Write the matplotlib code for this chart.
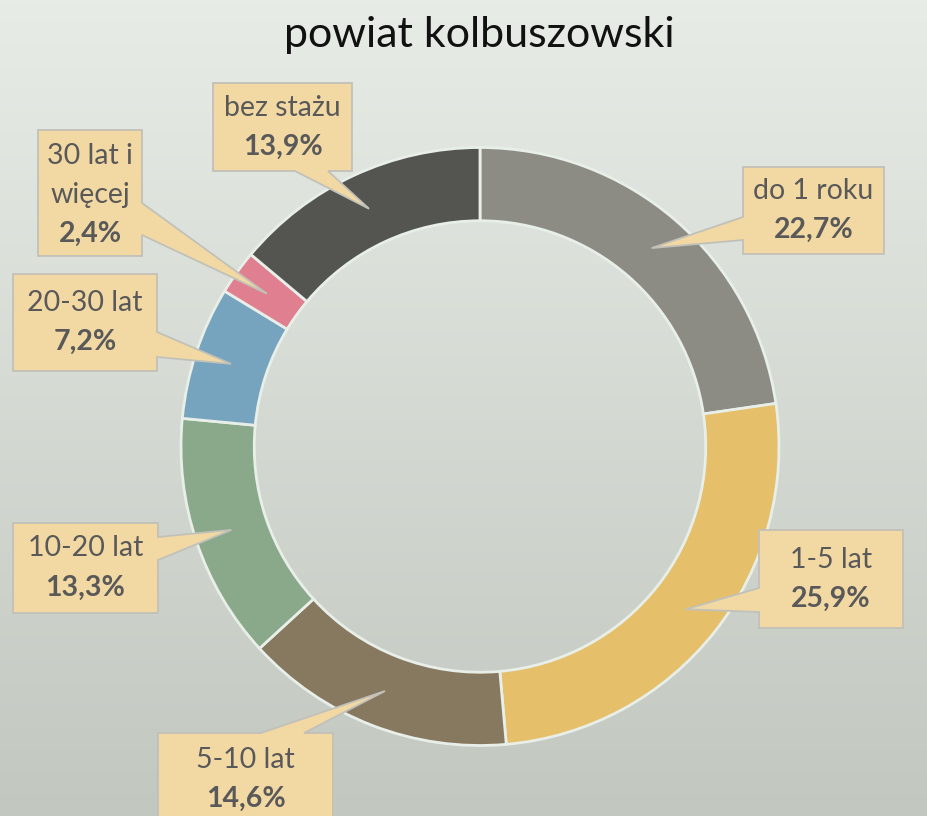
import numpy as np
import matplotlib
matplotlib.use("Agg")
import matplotlib.pyplot as plt
from matplotlib.patches import Polygon

plt.rcParams['font.family'] = ['Lato', 'DejaVu Sans']

# ---- data ----
title = "powiat kolbuszowski"
categories = ['do 1 roku', '1-5 lat', '5-10 lat', '10-20 lat', '20-30 lat', '30 lat i\nwięcej', 'bez stażu']
values = [22.7, 25.9, 14.6, 13.3, 7.2, 2.4, 13.9]
colors = ['#8c8c85', '#e5bf69', '#877860', '#8aa98a', '#76a3bd', '#e07f8f', '#545550']

# callout boxes in pixel coords (x0, y0, x1, y1, side, base_a, base_b)
boxes = [
    (743, 167, 884, 254, 'left', 217, 240),
    (759, 530, 903, 628, 'left', 588, 612),
    (158, 733, 333, 826, 'top', 261, 304),
    (13, 523, 158, 613, 'right', 537, 560),
    (13, 274, 157, 371, 'right', 332, 357),
    (38, 130, 142, 256, 'right', 203, 235),
    (213, 83, 352, 171, 'bottom', 295, 328),
]

W, H = 927, 816
fig = plt.figure(figsize=(W / 100, H / 100), dpi=100)

# background gradient
axbg = fig.add_axes([0, 0, 1, 1])
top = np.array([231, 236, 230]) / 255
bot = np.array([194, 199, 192]) / 255
t = np.linspace(0, 1, 256)[:, None]
grad = (top[None, :] * (1 - t) + bot[None, :] * t)[:, None, :]
axbg.imshow(grad, aspect='auto', extent=[0, 1, 0, 1], origin='upper')
axbg.set_axis_off()

ax = fig.add_axes([0, 0, 1, 1])
ax.patch.set_alpha(0)

cx, cy, R, wfrac = 480, 446.5, 299, 0.245
wedges, _ = ax.pie(values, colors=colors, startangle=-90, counterclock=True,
                   radius=R, center=(cx, cy),
                   wedgeprops=dict(width=R * wfrac, edgecolor='#e8eee8', linewidth=2.0))
ax.set_xlim(0, W)
ax.set_ylim(H, 0)
ax.set_aspect('equal')
ax.set_axis_off()

r_tip = R * (1 - wfrac / 2)
for wdg, cat, val, bx in zip(wedges, categories, values, boxes):
    mid = np.deg2rad((wdg.theta1 + wdg.theta2) / 2)
    tip = (cx + r_tip * np.cos(mid), cy + r_tip * np.sin(mid))
    x0, y0, x1, y1, side, a, b = bx
    if side == 'top':
        pts = [(x0, y0), (a, y0), tip, (b, y0), (x1, y0), (x1, y1), (x0, y1)]
    elif side == 'right':
        pts = [(x0, y0), (x1, y0), (x1, a), tip, (x1, b), (x1, y1), (x0, y1)]
    elif side == 'bottom':
        pts = [(x0, y0), (x1, y0), (x1, y1), (b, y1), tip, (a, y1), (x0, y1)]
    else:
        pts = [(x0, y0), (x1, y0), (x1, y1), (x0, y1), (x0, b), tip, (x0, a)]
    ax.add_patch(Polygon(pts, closed=True, facecolor='#f2d9a3', edgecolor='#c2c1b9',
                         linewidth=1.3, zorder=5))
    lines = cat.split('\n')
    n = len(lines) + 1
    sp = 39
    xc = (x0 + x1) / 2
    yc = (y0 + y1) / 2 + (2 if n == 3 else 0)
    ys = [yc + (i - (n - 1) / 2) * sp for i in range(n)]
    for yy, ln in zip(ys[:-1], lines):
        ax.text(xc, yy, ln, ha='center', va='center', fontsize=20.5, color='#595959', zorder=6)
    ax.text(xc, ys[-1], f"{val:.1f}".replace('.', ',') + '%', ha='center', va='center',
            fontsize=20.5, fontweight='bold', color='#595959', zorder=6)

ax.text(479, 35, title, ha='center', va='center', fontsize=31, color='#111111', zorder=6)

fig.savefig('out.png', dpi=100)
